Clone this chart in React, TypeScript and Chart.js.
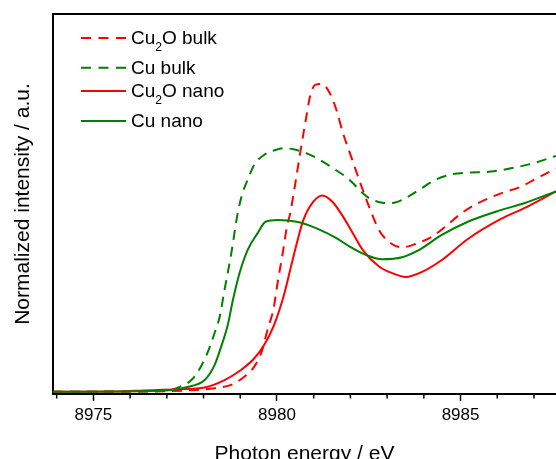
import React, { useEffect, useRef } from 'react';
import { Chart, registerables } from 'chart.js';

Chart.register(...registerables);

const FONT = '"Liberation Sans", Arial, Helvetica, sans-serif';
const RED = '#ff0000';
const GREEN = '#008000';

// ---- data ----
const seriesLabels = ['Cu₂O bulk', 'Cu bulk', 'Cu₂O nano', 'Cu nano'];

const cu2oBulkX = [8973.9, 8976.5, 8977.77, 8978.3, 8978.75, 8979.11, 8979.38, 8979.6, 8979.74, 8979.9, 8980.03, 8980.17, 8980.27, 8980.36, 8980.5, 8980.63, 8980.77, 8980.9, 8981.04, 8981.22, 8981.44, 8981.62, 8981.8, 8982.02, 8982.24, 8982.51, 8982.78, 8983.1, 8983.41, 8983.77, 8984.22, 8984.58, 8985.02, 8985.47, 8986.1, 8986.64, 8987.08, 8987.6];
const cu2oBulkY = [0.009, 0.01, 0.016, 0.023, 0.036, 0.068, 0.108, 0.174, 0.253, 0.332, 0.45, 0.568, 0.66, 0.713, 0.832, 0.95, 1.069, 1.174, 1.22, 1.224, 1.187, 1.121, 1.029, 0.937, 0.845, 0.739, 0.647, 0.595, 0.579, 0.592, 0.621, 0.66, 0.713, 0.753, 0.792, 0.818, 0.852, 0.89];

const cuBulkX = [8973.9, 8976.56, 8977.1, 8977.32, 8977.67, 8977.9, 8978.12, 8978.3, 8978.44, 8978.57, 8978.75, 8978.93, 8979.06, 8979.2, 8979.38, 8979.65, 8979.96, 8980.19, 8980.45, 8980.81, 8981.17, 8981.53, 8981.98, 8982.34, 8982.51, 8982.87, 8983.1, 8983.41, 8983.86, 8984.31, 8984.76, 8985.2, 8985.83, 8986.37, 8986.99, 8987.6];
const cuBulkY = [0.009, 0.011, 0.016, 0.026, 0.055, 0.101, 0.167, 0.24, 0.305, 0.41, 0.55, 0.713, 0.792, 0.845, 0.904, 0.944, 0.963, 0.97, 0.966, 0.95, 0.924, 0.891, 0.845, 0.792, 0.773, 0.755, 0.753, 0.766, 0.805, 0.845, 0.867, 0.874, 0.878, 0.891, 0.911, 0.94];

const cu2oNanoX = [8973.9, 8975.7, 8976.38, 8977.32, 8978.03, 8978.57, 8979.02, 8979.38, 8979.65, 8979.92, 8980.19, 8980.36, 8980.54, 8980.72, 8980.99, 8981.24, 8981.51, 8981.8, 8982.07, 8982.34, 8982.78, 8983.14, 8983.5, 8983.95, 8984.49, 8985.2, 8986.1, 8986.81, 8987.6];
const cu2oNanoY = [0.009, 0.01, 0.014, 0.019, 0.026, 0.055, 0.095, 0.14, 0.193, 0.272, 0.391, 0.49, 0.595, 0.687, 0.759, 0.784, 0.759, 0.7, 0.634, 0.568, 0.503, 0.477, 0.462, 0.482, 0.529, 0.612, 0.691, 0.739, 0.8];

const cuNanoX = [8973.9, 8976.56, 8977.28, 8977.5, 8978.03, 8978.3, 8978.48, 8978.66, 8978.8, 8978.98, 8979.2, 8979.47, 8979.69, 8980.01, 8980.54, 8981.08, 8981.62, 8981.98, 8982.42, 8982.87, 8983.41, 8983.86, 8984.49, 8985.2, 8986.1, 8986.73, 8987.6];
const cuNanoY = [0.009, 0.012, 0.019, 0.026, 0.055, 0.114, 0.187, 0.272, 0.371, 0.477, 0.568, 0.634, 0.68, 0.687, 0.68, 0.654, 0.615, 0.582, 0.549, 0.532, 0.54, 0.568, 0.628, 0.68, 0.726, 0.753, 0.8];

const xMin = 8973.9;
const xMax = 8987.6;
const yMin = 0;
const yMax = 1.5;
const xMajorTicks = [8975, 8980, 8985];
const xMinorTicks = [8974, 8976, 8977, 8978, 8979, 8981, 8982, 8983, 8984, 8986, 8987];
const xAxisTitle = 'Photon energy / eV';
const yAxisTitle = 'Normalized intensity / a.u.';

const toPoints = (xs: number[], ys: number[]) => xs.map((x, i) => ({ x, y: ys[i] }));

function drawRich(ctx: CanvasRenderingContext2D, text: string, x: number, y: number) {
  const parts = text.split('₂');
  let cx = x;
  parts.forEach((p, i) => {
    ctx.font = `19px ${FONT}`;
    ctx.fillText(p, cx, y);
    cx += ctx.measureText(p).width;
    if (i < parts.length - 1) {
      ctx.font = `12px ${FONT}`;
      ctx.fillText('2', cx, y + 9);
      cx += ctx.measureText('2').width;
    }
  });
}

const decorPlugin = {
  id: 'decor',
  afterDraw(chart: any) {
    const { ctx, chartArea: a, scales } = chart;
    const xs = scales.x;
    ctx.save();
    // top frame line
    ctx.strokeStyle = '#000';
    ctx.lineWidth = 2;
    ctx.beginPath();
    ctx.moveTo(a.left - 1, a.top);
    ctx.lineTo(a.right, a.top);
    ctx.stroke();
    // minor ticks
    ctx.lineWidth = 1.5;
    ctx.beginPath();
    for (const v of xMinorTicks) {
      const px = xs.getPixelForValue(v);
      ctx.moveTo(px, a.bottom);
      ctx.lineTo(px, a.bottom + 4.5);
    }
    ctx.stroke();
    // legend
    const rowY = [38, 67.7, 91, 121];
    chart.data.datasets.forEach((ds: any, i: number) => {
      const y = rowY[i];
      ctx.strokeStyle = ds.borderColor;
      ctx.lineWidth = 2;
      ctx.setLineDash(ds.borderDash && ds.borderDash.length ? [10, 7.5] : []);
      ctx.beginPath();
      ctx.moveTo(81, y);
      ctx.lineTo(126, y);
      ctx.stroke();
      ctx.setLineDash([]);
      ctx.fillStyle = '#000';
      ctx.textBaseline = 'middle';
      ctx.textAlign = 'left';
      drawRich(ctx, ds.label, 131, y + 1);
    });
    ctx.restore();
  },
};

export default function App() {
  const ref = useRef<HTMLCanvasElement>(null);

  useEffect(() => {
    if (!ref.current) return;
    const chart = new Chart(ref.current, {
      type: 'line',
      data: {
        datasets: [
          { label: seriesLabels[0], data: toPoints(cu2oBulkX, cu2oBulkY), borderColor: RED, borderDash: [10, 7], order: 3 },
          { label: seriesLabels[1], data: toPoints(cuBulkX, cuBulkY), borderColor: GREEN, borderDash: [10, 7], order: 2 },
          { label: seriesLabels[2], data: toPoints(cu2oNanoX, cu2oNanoY), borderColor: RED, borderDash: [], order: 1 },
          { label: seriesLabels[3], data: toPoints(cuNanoX, cuNanoY), borderColor: GREEN, borderDash: [], order: 0 },
        ].map((d) => ({
          ...d,
          borderWidth: 2,
          pointRadius: 0,
          fill: false,
          cubicInterpolationMode: 'monotone' as const,
        })),
      },
      options: {
        responsive: false,
        devicePixelRatio: 1,
        animation: false,
        parsing: true,
        layout: { padding: { top: 14, right: -6, bottom: 0, left: 0 } },
        plugins: { legend: { display: false }, tooltip: { enabled: false } },
        scales: {
          x: {
            type: 'linear',
            min: xMin,
            max: xMax,
            afterBuildTicks: (s: any) => {
              s.ticks = xMajorTicks.map((v) => ({ value: v }));
            },
            afterFit: (s: any) => {
              s.height = 65;
            },
            ticks: {
              color: '#000',
              font: { family: FONT, size: 17 },
              padding: 4,
              maxRotation: 0,
              autoSkip: false,
              callback: (v: any) => String(v),
            },
            grid: {
              display: true,
              drawOnChartArea: false,
              drawTicks: true,
              tickLength: 7,
              tickWidth: 1.5,
              tickColor: '#000',
            },
            border: { display: true, color: '#000', width: 2 },
            title: {
              display: true,
              text: xAxisTitle,
              color: '#000',
              font: { family: FONT, size: 21 },
              padding: { top: 0, bottom: -8 },
            },
          },
          y: {
            type: 'linear',
            min: yMin,
            max: yMax,
            afterFit: (s: any) => {
              s.width = 53;
            },
            ticks: { display: false },
            grid: { display: false },
            border: { display: true, color: '#000', width: 2 },
            title: {
              display: true,
              text: yAxisTitle,
              color: '#000',
              font: { family: FONT, size: 21 },
              padding: { top: 11, bottom: 0 },
            },
          },
        },
      },
      plugins: [decorPlugin],
    } as any);
    return () => chart.destroy();
  }, []);

  return (
    <div style={{ position: 'fixed', left: 0, top: 0, width: 556, height: 459, background: '#fff', overflow: 'hidden' }}>
      <canvas ref={ref} width={556} height={459} style={{ display: 'block' }} />
    </div>
  );
}
